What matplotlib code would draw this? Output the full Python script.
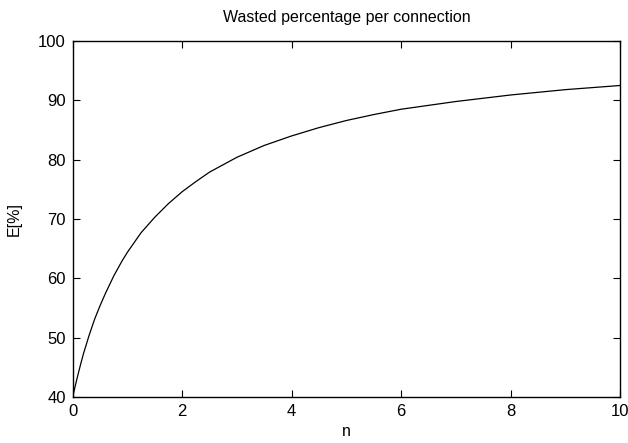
import matplotlib
matplotlib.use("Agg")
import matplotlib.pyplot as plt

plt.rcParams['font.family'] = ['Liberation Sans', 'DejaVu Sans']

n = [0, 0.05, 0.1, 0.15, 0.2, 0.3, 0.4, 0.5, 0.6, 0.75, 0.9, 1, 1.25,
     1.5, 1.75, 2, 2.25, 2.5, 3, 3.5, 4, 4.5, 5, 5.5, 6, 7, 8, 9, 10]
e = [40.0, 42.0, 43.9, 45.7, 47.4, 50.4, 53.1, 55.4, 57.5, 60.4, 62.9,
     64.4, 67.7, 70.3, 72.6, 74.6, 76.3, 77.9, 80.4, 82.4, 84.0, 85.4,
     86.6, 87.6, 88.5, 89.8, 90.9, 91.8, 92.5]

fig = plt.figure(figsize=(6.28, 4.43), dpi=100)
ax = fig.add_axes([72.7 / 628, 1 - 397 / 443, (620 - 72.7) / 628, (397 - 41) / 443])

ax.plot(n, e, color='black', linewidth=0.9)
ax.set_xlim(0, 10)
ax.set_ylim(40, 100)
ax.set_xticks([0, 2, 4, 6, 8, 10])
ax.set_yticks([40, 50, 60, 70, 80, 90, 100])
ax.tick_params(direction='in', top=True, right=True, length=5, width=0.8,
               labelsize=12, pad=5)
for s in ax.spines.values():
    s.set_linewidth(1.0)

ax.set_title("Wasted percentage per connection", fontsize=11.5, pad=14)
ax.set_xlabel("n", fontsize=11.5, labelpad=4)
ax.set_ylabel("E[%]", fontsize=11.5, labelpad=12)

fig.savefig("out.png", dpi=100)
